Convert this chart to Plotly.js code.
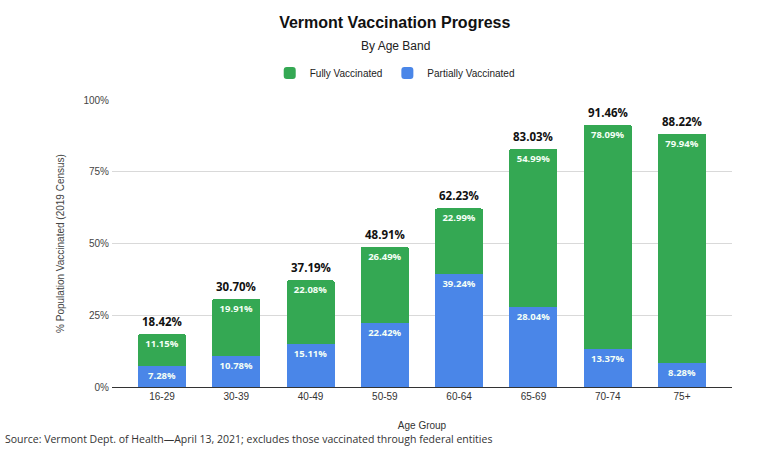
<!DOCTYPE html>
<html>
<head>
<meta charset="utf-8">
<script src="https://cdn.plot.ly/plotly-3.0.1.min.js"></script>
<style>html,body{margin:0;padding:0;background:#fff;}#chart{width:771px;height:449px;}</style>
</head>
<body>
<div id="chart"></div>
<script>
const ageGroups = ["16-29", "30-39", "40-49", "50-59", "60-64", "65-69", "70-74", "75+"];
const partiallyVaccinated = [7.28, 10.78, 15.11, 22.42, 39.24, 28.04, 13.37, 8.28];
const fullyVaccinated = [11.15, 19.91, 22.08, 26.49, 22.99, 54.99, 78.09, 79.94];
const totalLabels = ["18.42%", "30.70%", "37.19%", "48.91%", "62.23%", "83.03%", "91.46%", "88.22%"];
const yTicks = [0, 25, 50, 75, 100];
const yTickLabels = ["0%", "25%", "50%", "75%", "100%"];

const fmt = v => v.toFixed(2) + "%";
const labelFont = {family: "Open Sans, Liberation Sans, sans-serif", size: 9.5, color: "#f4fff6", weight: 700};

const traces = [
  {
    type: "bar", name: "Partially Vaccinated", x: ageGroups, y: partiallyVaccinated,
    marker: {color: "#4a86e8"}, text: partiallyVaccinated.map(fmt),
    textposition: "inside", insidetextanchor: "end", textangle: 0,
    textfont: labelFont, hoverinfo: "none"
  },
  {
    type: "bar", name: "Fully Vaccinated", x: ageGroups, y: fullyVaccinated,
    marker: {color: "#34a853"}, text: fullyVaccinated.map(fmt),
    textposition: "inside", insidetextanchor: "end", textangle: 0,
    textfont: labelFont, hoverinfo: "none"
  }
];

const annotations = ageGroups.map((g, i) => ({
  x: g, y: partiallyVaccinated[i] + fullyVaccinated[i], xref: "x", yref: "y",
  text: "<b>" + totalLabels[i] + "</b>", showarrow: false, yanchor: "bottom", yshift: 3,
  font: {family: "Open Sans, Liberation Sans, sans-serif", size: 11.5, color: "#111"}
}));
annotations.push({
  xref: "paper", yref: "paper", x: 0.5, y: 1, xanchor: "center", yanchor: "middle",
  text: "By Age Band", showarrow: false, yshift: 54, xshift: -27,
  font: {family: "Liberation Sans, Arial, sans-serif", size: 12, color: "#222"}
});
annotations.push({
  xref: "paper", yref: "paper", x: 0, y: 0, xanchor: "left", yanchor: "top",
  text: "Source: Vermont Dept. of Health\u2014April 13, 2021; excludes those vaccinated through federal entities",
  showarrow: false, xshift: -109, yshift: -43,
  font: {family: "Open Sans, Liberation Sans, sans-serif", size: 10.5, color: "#333"}
});

const layout = {
  width: 771, height: 449,
  margin: {l: 112, r: 39, t: 100, b: 62},
  paper_bgcolor: "#ffffff", plot_bgcolor: "#ffffff",
  barmode: "stack", bargap: 0.354, barcornerradius: 2,
  title: {
    text: "<b>Vermont Vaccination Progress</b>", x: 0.512, xref: "container", xanchor: "center",
    y: 0.949, yref: "container", yanchor: "middle",
    font: {family: "Liberation Sans, Arial, sans-serif", size: 16, color: "#111"}
  },
  showlegend: true,
  legend: {
    orientation: "h", x: 0.456, xanchor: "center", y: 1.094, yanchor: "middle",
    traceorder: "reversed",
    font: {family: "Liberation Sans, Arial, sans-serif", size: 10, color: "#222"}
  },
  xaxis: {
    type: "category", range: [-0.673, 7.673], fixedrange: true,
    showgrid: false, showline: true, linecolor: "#333", linewidth: 1,
    ticks: "", tickfont: {family: "Liberation Sans, Arial, sans-serif", size: 10, color: "#333"},
    title: {text: "Age Group", standoff: 20, font: {family: "Liberation Sans, Arial, sans-serif", size: 10, color: "#333"}}
  },
  yaxis: {
    range: [0, 100], tickvals: yTicks, ticktext: yTickLabels, fixedrange: true,
    showgrid: true, gridcolor: "#d9d9d9", gridwidth: 1, zeroline: false,
    ticks: "", ticklabelstandoff: 2,
    tickfont: {family: "Liberation Sans, Arial, sans-serif", size: 10, color: "#444"},
    title: {text: "% Population Vaccinated (2019 Census)", standoff: 16, font: {family: "Liberation Sans, Arial, sans-serif", size: 10, color: "#444"}}
  },
  annotations: annotations
};

Plotly.newPlot("chart", traces, layout, {displayModeBar: false, staticPlot: true});
</script>
</body>
</html>
